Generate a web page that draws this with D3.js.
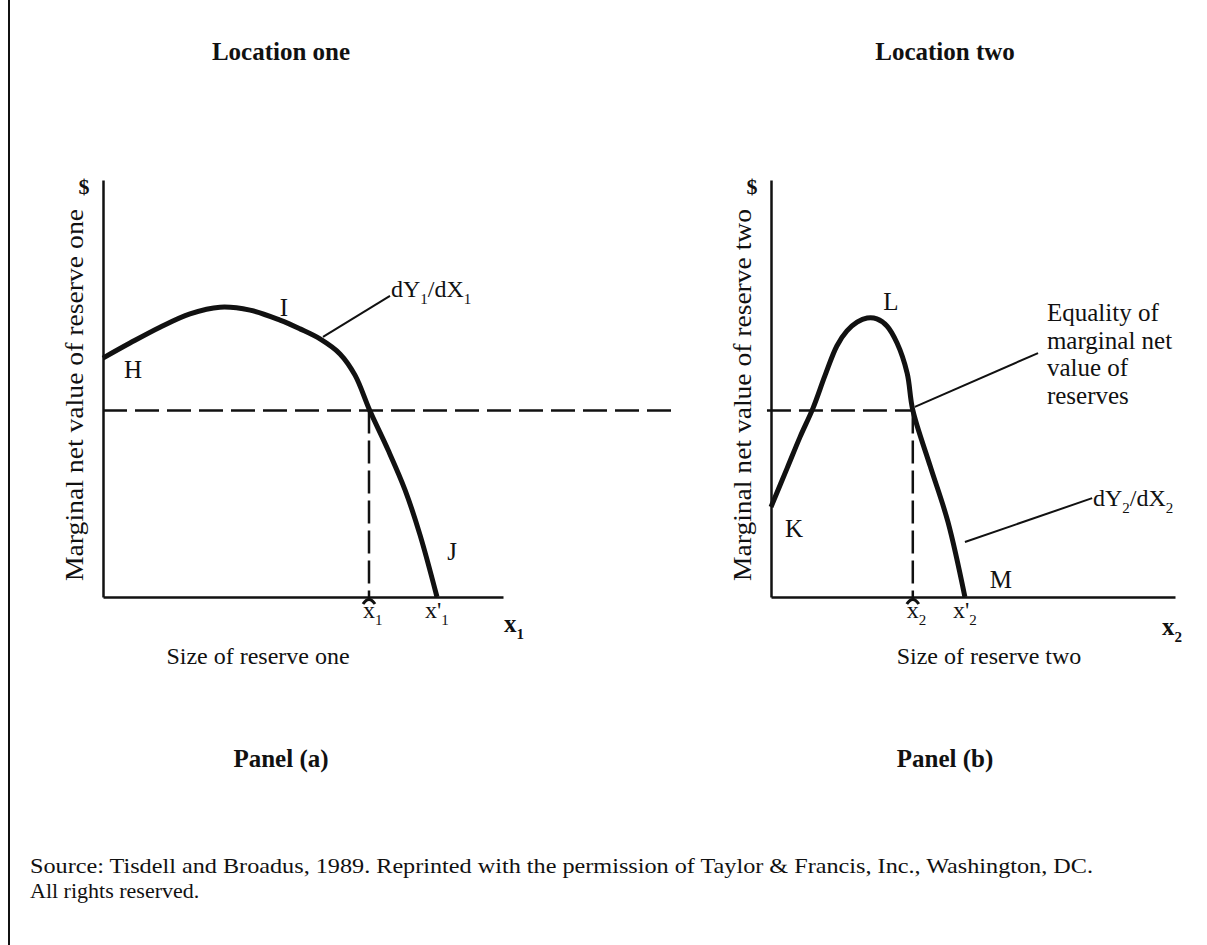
<!DOCTYPE html>
<html>
<head>
<meta charset="utf-8">
<title>Marginal net value of reserves</title>
<script src="https://cdn.jsdelivr.net/npm/d3@7/dist/d3.min.js"></script>
<style>
  body { margin: 0; background: #fff; }
  text { font-family: "Liberation Serif", "Times New Roman", serif; fill: #111; }
</style>
</head>
<body>
<svg id="chart" width="1207" height="945"></svg>
<script>
  // ---- data (both axes run 0..100 in each panel) ----
  var curveA = [[0,57.3],[6.75,60.9],[14.25,64.7],[21.75,67.9],[29.25,69.5],[36.75,68.8],
                [44.25,66.4],[49.25,64.3],[54.25,61.9],[59.25,58.3],[63,53.2],[66.75,44.6],
                [71.25,35.3],[75.5,25.7],[79.25,14.9],[83.5,0]];
  var curveB = [[0,21.6],[4,30.9],[7.2,38.4],[10.4,45.3],[13.4,53.2],[16.3,60.2],[18.8,63.8],
                [21.3,65.9],[23.8,66.9],[26.2,66.7],[28.7,65.0],[31.2,60.9],[33.7,53.7],
                [35.1,44.8],[39.4,31.4],[43.8,18.0],[48,0]];
  var equalityY  = [44.7, 44.7];
  var xBar       = [66.5, 35.1];
  var xPrime     = [83.5, 48];
  var titles     = ["Location one", "Location two"];
  var panelNames = ["Panel (a)", "Panel (b)"];
  var yLabels    = ["Marginal net value of reserve one", "Marginal net value of reserve two"];
  var xLabels    = ["Size of reserve one", "Size of reserve two"];
  var subs       = ["1", "2"];
  var pointsA    = ["H", "I", "J"];
  var pointsB    = ["K", "L", "M"];
  var equalityText = ["Equality of", "marginal net", "value of", "reserves"];
  var sourceText = ["Source: Tisdell and Broadus, 1989. Reprinted with the permission of Taylor & Francis, Inc., Washington, DC.",
                    "All rights reserved."];

  var chart = d3.select("#chart");
  var fontsize = "25px";
  var subsize  = "15px";

  // frame line at left
  chart.append("line").attr("x1", 9).attr("y1", 0).attr("x2", 9).attr("y2", 945)
       .style("stroke", "#111").style("stroke-width", 2);

  // panel boxes in pixels
  var panels = [
    {left: 103, right: 503, top: 180, bottom: 597, center: 281, xlab: 258},
    {left: 771, right: 1175, top: 180, bottom: 597, center: 945, xlab: 989}
  ];
  var scales = panels.map(function(p) {
    return {
      x: d3.scaleLinear().domain([0, 100]).range([p.left, p.right]),
      y: d3.scaleLinear().domain([0, 100]).range([p.bottom, p.bottom - 417])
    };
  });

  var line = d3.line().curve(d3.curveCatmullRom.alpha(0.5));

  // text with subscripts: parts = [[text, isSub], ...]
  function richText(g, x, y, parts, size, bold) {
    var t = g.append("text").attr("x", x).attr("y", y)
             .style("font-size", size).style("font-weight", bold ? "bold" : "normal");
    var down = false;
    parts.forEach(function(p) {
      var s = t.append("tspan").text(p[0]);
      if (p[1] && !down) { s.attr("dy", 7).style("font-size", subsize); down = true; }
      else if (p[1]) { s.style("font-size", subsize); }
      else if (down) { s.attr("dy", -7); down = false; }
    });
    return t;
  }

  function drawPanel(i, curve) {
    var p = panels[i], sx = scales[i].x, sy = scales[i].y;
    var g = chart.append("g");

    // titles
    g.append("text").attr("x", p.center).attr("y", 60).text(titles[i])
     .style("font-size", "25px").style("font-weight", "bold").style("text-anchor", "middle");
    g.append("text").attr("x", p.center).attr("y", 767).text(panelNames[i])
     .style("font-size", "25px").style("font-weight", "bold").style("text-anchor", "middle");

    // axes
    var yAxis = d3.axisLeft(sy).tickValues([]).tickSizeOuter(0);
    var xAxis = d3.axisBottom(sx).tickValues([]).tickSizeOuter(0);
    g.append("g").attr("transform", "translate(" + p.left + ",0)").call(yAxis)
     .select(".domain").style("stroke", "#111").style("stroke-width", 2.5);
    g.append("g").attr("transform", "translate(0," + p.bottom + ")").call(xAxis)
     .select(".domain").style("stroke", "#111").style("stroke-width", 2.5);

    g.append("text").attr("x", p.left - 19).attr("y", 194).text("$")
     .style("font-size", "22px").style("font-weight", "bold").style("text-anchor", "middle");

    g.append("text").attr("transform", "translate(" + (p.left - 20) + "," + 395 + ") rotate(-90)")
     .text(yLabels[i]).style("font-size", "25px").style("text-anchor", "middle")
     .attr("textLength", 372).attr("lengthAdjust", "spacingAndGlyphs");

    // dashed guides
    var dashEnd = i === 0 ? 143.5 : xBar[i];
    var dashStart = i === 0 ? 0 : -1;
    g.append("line").attr("x1", sx(dashStart)).attr("x2", sx(dashEnd))
     .attr("y1", sy(equalityY[i])).attr("y2", sy(equalityY[i]))
     .style("stroke", "#111").style("stroke-width", 2.5).style("stroke-dasharray", "24,8");
    g.append("line").attr("x1", sx(xBar[i])).attr("x2", sx(xBar[i]))
     .attr("y1", sy(equalityY[i])).attr("y2", sy(0))
     .style("stroke", "#111").style("stroke-width", 2.5).style("stroke-dasharray", "23,7");

    // curve
    g.append("path").datum(curve.map(function(d) { return [sx(d[0]), sy(d[1])]; }))
     .attr("d", line).style("fill", "none").style("stroke", "#111")
     .style("stroke-width", 5).style("stroke-linejoin", "round");

    // x bar mark and labels on x axis
    var bx = sx(xBar[i]);
    g.append("path").attr("d", "M" + (bx - 6) + "," + (p.bottom + 7) + " Q" + bx + "," + (p.bottom - 2) + " " + (bx + 6) + "," + (p.bottom + 7))
     .style("fill", "none").style("stroke", "#111").style("stroke-width", 3);
    richText(g, bx - 6, p.bottom + 21, [["x", false], [subs[i], true]], "24px", false);
    richText(g, sx(xPrime[i]) - 12, p.bottom + 21, [["x'", false], [subs[i], true]], "24px", false);
    richText(g, i === 0 ? 504 : 1162, i === 0 ? 632 : 635, [["x", false], [subs[i], true]], "25px", true);

    g.append("text").attr("x", p.xlab).attr("y", 664).text(xLabels[i])
     .style("font-size", "24px").style("text-anchor", "middle");
    return g;
  }

  // ---- panel (a) ----
  var ga = drawPanel(0, curveA);
  var sxa = scales[0].x, sya = scales[0].y;
  ga.append("text").attr("x", sxa(7.5)).attr("y", sya(52.5)).text(pointsA[0])
    .style("font-size", fontsize).style("text-anchor", "middle");
  ga.append("text").attr("x", sxa(45.25)).attr("y", sya(67.3)).text(pointsA[1])
    .style("font-size", fontsize).style("text-anchor", "middle");
  ga.append("text").attr("x", sxa(87.25)).attr("y", sya(8.9)).text(pointsA[2])
    .style("font-size", fontsize).style("text-anchor", "middle");
  ga.append("line").attr("x1", sxa(55)).attr("y1", sya(62.4)).attr("x2", sxa(71.75)).attr("y2", sya(72.2))
    .style("stroke", "#111").style("stroke-width", 2);
  richText(ga, sxa(72), sya(71.9), [["dY", false], [subs[0], true], ["/dX", false], [subs[0], true]], "24px", false);

  // ---- panel (b) ----
  var gb = drawPanel(1, curveB);
  var sxb = scales[1].x, syb = scales[1].y;
  gb.append("text").attr("x", sxb(5.7)).attr("y", syb(14.4)).text(pointsB[0])
    .style("font-size", fontsize).style("text-anchor", "middle");
  gb.append("text").attr("x", sxb(29.7)).attr("y", syb(68.8)).text(pointsB[1])
    .style("font-size", fontsize).style("text-anchor", "middle");
  gb.append("text").attr("x", sxb(56.9)).attr("y", syb(2.2)).text(pointsB[2])
    .style("font-size", fontsize).style("text-anchor", "middle");
  gb.append("line").attr("x1", sxb(35.6)).attr("y1", syb(45.6)).attr("x2", sxb(66.1)).attr("y2", syb(58.5))
    .style("stroke", "#111").style("stroke-width", 2);
  equalityText.forEach(function(s, k) {
    gb.append("text").attr("x", sxb(68.3)).attr("y", syb(66.2) + k * 27.7).text(s)
      .style("font-size", fontsize);
  });
  gb.append("line").attr("x1", sxb(48)).attr("y1", syb(13.2)).attr("x2", sxb(79.5)).attr("y2", syb(23.7))
    .style("stroke", "#111").style("stroke-width", 2);
  richText(gb, sxb(79.7), syb(21.8), [["dY", false], [subs[1], true], ["/dX", false], [subs[1], true]], "24px", false);

  // source note
  sourceText.forEach(function(s, k) {
    var t = chart.append("text").attr("x", 30).attr("y", 873 + k * 25).text(s)
                 .style("font-size", "22px");
    if (k === 0) t.attr("textLength", 1063).attr("lengthAdjust", "spacingAndGlyphs");
  });
</script>
</body>
</html>
